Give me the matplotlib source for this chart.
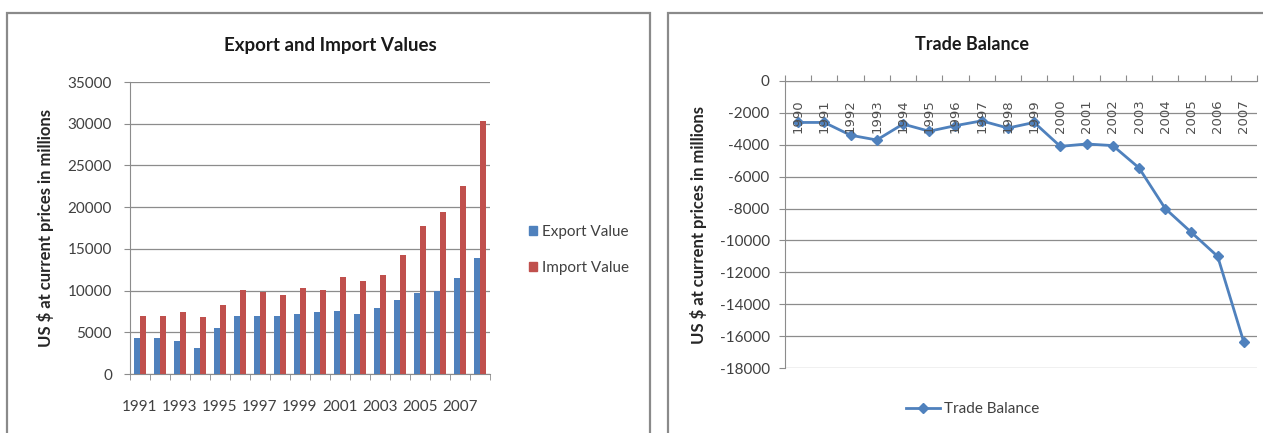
import matplotlib
matplotlib.use("Agg")
import matplotlib.pyplot as plt
from matplotlib.patches import Rectangle, Patch
from matplotlib.lines import Line2D
import numpy as np

plt.rcParams['font.family'] = ['Lato', 'DejaVu Sans']
plt.rcParams['axes.unicode_minus'] = False

# data
bar_years = list(range(1991, 2009))
export_vals = [4300, 4300, 4000, 3100, 5500, 6900, 6900, 7000, 7200, 7400,
               7500, 7200, 7900, 8900, 9700, 10000, 11500, 13900]
import_vals = [7000, 6950, 7400, 6800, 8300, 10100, 9800, 9500, 10300, 10100,
               11600, 11100, 11900, 14300, 17700, 19400, 22500, 30300]

tb_years = list(range(1990, 2008))
trade_balance = [-2600, -2600, -3400, -3700, -2700, -3150, -2800, -2500, -2950, -2600,
                 -4100, -3950, -4050, -5450, -8000, -9500, -11000, -16400]

W, H = 1263, 433
BLUE = '#4F81BD'
RED = '#C0504D'
GRID = '#8C8C8C'
TXT = '#404040'


def fx(px):
    return px / W


def fy(py):
    return 1 - py / H


fig = plt.figure(figsize=(W / 100, H / 100), dpi=100)

# panel frames
for x0, x1 in [(7, 650), (668, 1275)]:
    fig.patches.append(Rectangle((fx(x0), fy(460)), fx(x1 - x0), (460 - 13) / H,
                                 transform=fig.transFigure, fill=False,
                                 edgecolor='#8a8a8a', linewidth=1.6))

# ---- left chart: export / import bars ----
ax1 = fig.add_axes([fx(130), fy(374), fx(360), 292 / H])
x = np.arange(len(bar_years))
bw = 0.32
ax1.bar(x - bw / 2, export_vals, bw, color=BLUE, label='Export Value', zorder=3)
ax1.bar(x + bw / 2, import_vals, bw, color=RED, label='Import Value', zorder=3)
ax1.set_xlim(-0.5, len(bar_years) - 0.5)
ax1.set_ylim(0, 35000)
ax1.set_yticks(range(0, 35001, 5000))
ax1.yaxis.grid(True, color=GRID, linewidth=0.9, zorder=0)
ax1.set_xticks(x[::2])
ax1.set_xticklabels([str(y) for y in bar_years[::2]])
ax1.set_xticks(np.arange(-0.5, len(bar_years), 1), minor=True)
ax1.tick_params(axis='x', which='major', length=0, pad=19, labelsize=11, labelcolor=TXT)
ax1.tick_params(axis='x', which='minor', length=4, color=GRID, direction='out')
ax1.tick_params(axis='y', length=4, color=GRID, labelsize=11, labelcolor=TXT, pad=9)
for s in ['top', 'right']:
    ax1.spines[s].set_visible(False)
for s in ['left', 'bottom']:
    ax1.spines[s].set_color(GRID)
ax1.set_ylabel('US $ at current prices in millions', fontsize=12, fontweight='bold',
               color='#262626', labelpad=10)
fig.text(fx(330), fy(45), 'Export and Import Values', ha='center', va='center',
         fontsize=13.5, fontweight='bold', color='#1a1a1a')
h1 = [Patch(color=BLUE), Patch(color=RED)]
fig.legend(h1, ['Export Value', 'Import Value'], loc='center left',
           bbox_to_anchor=(fx(515), fy(250)), frameon=False, fontsize=11,
           handlelength=0.55, handleheight=0.55, handletextpad=0.35, labelspacing=1.45,
           labelcolor=TXT)

# ---- right chart: trade balance line ----
ax2 = fig.add_axes([fx(785), fy(368), fx(472), 287 / H])
xi = np.arange(len(tb_years))
ax2.plot(xi, trade_balance, color=BLUE, linewidth=2, marker='D', markersize=5.5,
         zorder=3, label='Trade Balance')
ax2.set_xlim(-0.5, len(tb_years) - 0.5)
ax2.set_ylim(-18000, 0)
ax2.set_yticks(range(-18000, 1, 2000))
ax2.yaxis.grid(True, color=GRID, linewidth=0.9, zorder=0)
ax2.xaxis.set_ticks_position('top')
ax2.set_xticks(np.arange(-0.5, len(tb_years), 1))
ax2.set_xticklabels([])
ax2.tick_params(axis='x', length=4, color=GRID, direction='out')
ax2.tick_params(axis='y', length=4, color=GRID, labelsize=11, labelcolor=TXT, pad=7)
for s in ['bottom', 'right']:
    ax2.spines[s].set_visible(False)
for s in ['left', 'top']:
    ax2.spines[s].set_color(GRID)
for i, yr in enumerate(tb_years):
    ax2.annotate(str(yr), xy=(i, 0), xytext=(0, -18), textcoords='offset pixels',
                 rotation=90, ha='center', va='top', fontsize=9.5, color='#505050',
                 family=['DejaVu Sans'])
ax2.set_ylabel('US $ at current prices in millions', fontsize=12, fontweight='bold',
               color='#262626', labelpad=9)
fig.text(fx(972), fy(44), 'Trade Balance', ha='center', va='center',
         fontsize=13, fontweight='bold', color='#1a1a1a')
h2 = [Line2D([0], [0], color=BLUE, linewidth=2, marker='D', markersize=5)]
fig.legend(h2, ['Trade Balance'], loc='center', bbox_to_anchor=(fx(973), fy(409)),
           frameon=False, fontsize=11, handlelength=2.2, handletextpad=0.3,
           labelcolor=TXT)

fig.savefig('out.png', dpi=100)
